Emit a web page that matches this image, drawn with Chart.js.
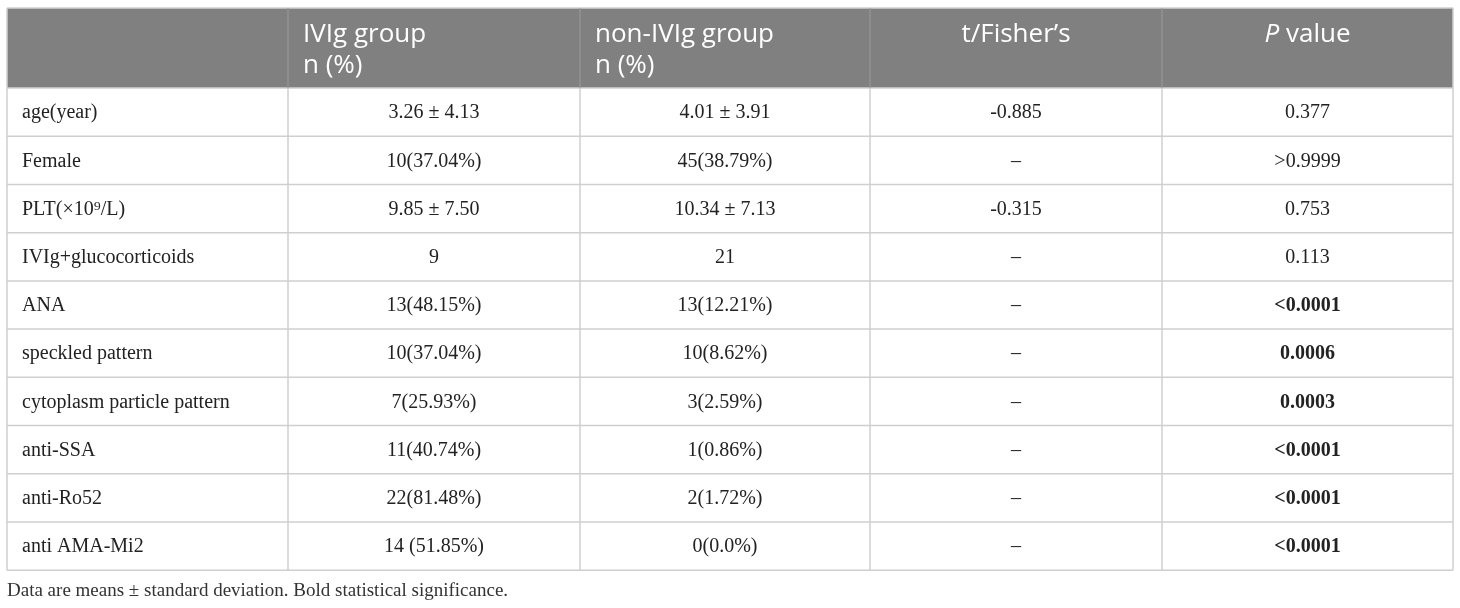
<!DOCTYPE html>
<html>
<head>
<meta charset="utf-8">
<script src="https://cdn.jsdelivr.net/npm/chart.js@4.4.0/dist/chart.umd.min.js"></script>
<style>
  html, body { margin: 0; padding: 0; background: #fff; }
  canvas { display: block; }
</style>
</head>
<body>
<canvas id="tbl" width="1460" height="608"></canvas>
<script>
// table content
const headers = [[""], ["IVIg group", "n (%)"], ["non-IVIg group", "n (%)"], ["t/Fisher’s"], ["P value"]];
const rowLabels = ["age(year)", "Female", "PLT(×10⁹/L)", "IVIg+glucocorticoids", "ANA", "speckled pattern",
  "cytoplasm particle pattern", "anti-SSA", "anti-Ro52", "anti AMA-Mi2"];
const ivigGroup = ["3.26 ± 4.13", "10(37.04%)", "9.85 ± 7.50", "9", "13(48.15%)", "10(37.04%)",
  "7(25.93%)", "11(40.74%)", "22(81.48%)", "14 (51.85%)"];
const nonIvigGroup = ["4.01 ± 3.91", "45(38.79%)", "10.34 ± 7.13", "21", "13(12.21%)", "10(8.62%)",
  "3(2.59%)", "1(0.86%)", "2(1.72%)", "0(0.0%)"];
const testStats = ["-0.885", "–", "-0.315", "–", "–", "–", "–", "–", "–", "–"];
const pValues = ["0.377", ">0.9999", "0.753", "0.113", "<0.0001", "0.0006", "0.0003", "<0.0001", "<0.0001", "<0.0001"];
const significant = [false, false, false, false, true, true, true, true, true, true];
const footnote = "Data are means ± standard deviation. Bold statistical significance.";

// layout, in table units (1 unit = 1px)
const colWidths = [281, 292, 290, 292, 291];
const headerHeight = 80;
const rowHeight = 48.2;

const colEdges = colWidths.reduce((acc, w) => { acc.push(acc[acc.length - 1] + w); return acc; }, [0]);
const tableWidth = colEdges[colEdges.length - 1];
const tableHeight = headerHeight + rowLabels.length * rowHeight;
const rowMid = (i) => headerHeight + rowHeight * (i + 0.5);
const colMid = (c) => (colEdges[c] + colEdges[c + 1]) / 2;

const columns = [rowLabels, ivigGroup, nonIvigGroup, testStats, pValues];

const datasets = columns.map((col, c) => ({
  label: headers[c].join(" "),
  data: col.map((t, i) => ({ x: c === 0 ? colEdges[0] + 15 : colMid(c), y: rowMid(i) })),
  texts: col,
  align: c === 0 ? "left" : "center",
  bold: c === 4 ? significant : null,
  pointRadius: 0,
  pointHoverRadius: 0,
}));

const bodyFont = '"Liberation Serif", "Times New Roman", serif';
const headFont = '"Open Sans", "Noto Sans", sans-serif';
const headSize = "26px ";

// grid, header band and header text
const tableGrid = {
  id: "tableGrid",
  beforeDatasetsDraw(chart) {
    const { ctx, scales: { x, y } } = chart;
    const L = x.getPixelForValue(0), R = x.getPixelForValue(tableWidth);
    const T = y.getPixelForValue(0), H = y.getPixelForValue(headerHeight), B = y.getPixelForValue(tableHeight);
    ctx.save();
    ctx.fillStyle = "#808080";
    ctx.fillRect(L, T, R - L, H - T);

    ctx.lineWidth = 1.5;
    ctx.strokeStyle = "#cfcfcf";
    ctx.beginPath();
    ctx.moveTo(L, T); ctx.lineTo(R, T);
    for (let i = 0; i <= rowLabels.length; i++) {
      const yy = y.getPixelForValue(headerHeight + i * rowHeight);
      ctx.moveTo(L, yy); ctx.lineTo(R, yy);
    }
    colEdges.forEach((e, k) => {
      const xx = x.getPixelForValue(e);
      if (k === 0 || k === colEdges.length - 1) { ctx.moveTo(xx, T); } else { ctx.moveTo(xx, H); }
      ctx.lineTo(xx, B);
    });
    ctx.stroke();

    ctx.lineWidth = 1;
    ctx.strokeStyle = "#9a9a9a";
    ctx.beginPath();
    colEdges.slice(1, -1).forEach((e) => {
      const xx = x.getPixelForValue(e);
      ctx.moveTo(xx, T); ctx.lineTo(xx, H);
    });
    ctx.stroke();

    ctx.fillStyle = "#ffffff";
    ctx.textBaseline = "alphabetic";
    headers.forEach((lines, c) => {
      lines.forEach((ln, k) => {
        const yy = y.getPixelForValue(34 + k * 31);
        if (c >= 3) {
          ctx.textAlign = "center";
          const xx = x.getPixelForValue(colMid(c));
          if (ln.startsWith("P ")) {
            ctx.font = "italic " + headSize + headFont;
            const wP = ctx.measureText("P").width;
            ctx.font = headSize + headFont;
            const wRest = ctx.measureText(ln.slice(1)).width;
            const start = xx - (wP + wRest) / 2;
            ctx.textAlign = "left";
            ctx.font = "italic " + headSize + headFont;
            ctx.fillText("P", start, yy);
            ctx.font = headSize + headFont;
            ctx.fillText(ln.slice(1), start + wP, yy);
          } else {
            ctx.font = headSize + headFont;
            ctx.fillText(ln, xx, yy);
          }
        } else {
          ctx.textAlign = "left";
          ctx.font = headSize + headFont;
          ctx.fillText(ln, x.getPixelForValue(colEdges[c] + 15), yy);
        }
      });
    });
    ctx.restore();
  },
  afterDatasetsDraw(chart) {
    const { ctx } = chart;
    ctx.save();
    ctx.fillStyle = "#222222";
    ctx.textBaseline = "middle";
    chart.data.datasets.forEach((ds, d) => {
      const meta = chart.getDatasetMeta(d);
      ctx.textAlign = ds.align;
      meta.data.forEach((pt, i) => {
        const isBold = ds.bold && ds.bold[i];
        ctx.font = (isBold ? "bold " : "") + "20px " + bodyFont;
        ctx.fillText(ds.texts[i], pt.x, pt.y + 1);
      });
    });
    ctx.restore();
  },
};

new Chart(document.getElementById("tbl"), {
  type: "scatter",
  data: { datasets: datasets },
  options: {
    responsive: false,
    animation: false,
    events: [],
    layout: { padding: { left: 7, right: 7, top: 8, bottom: 0 } },
    scales: {
      x: { type: "linear", min: 0, max: tableWidth, display: false },
      y: { type: "linear", min: 0, max: tableHeight, reverse: true, display: false },
    },
    plugins: {
      legend: { display: false },
      tooltip: { enabled: false },
      title: {
        display: true,
        position: "bottom",
        align: "start",
        text: footnote,
        color: "#333333",
        font: { family: bodyFont, size: 19, weight: "normal" },
        padding: { top: 9, bottom: 6 },
      },
    },
  },
  plugins: [tableGrid],
});
</script>
</body>
</html>
